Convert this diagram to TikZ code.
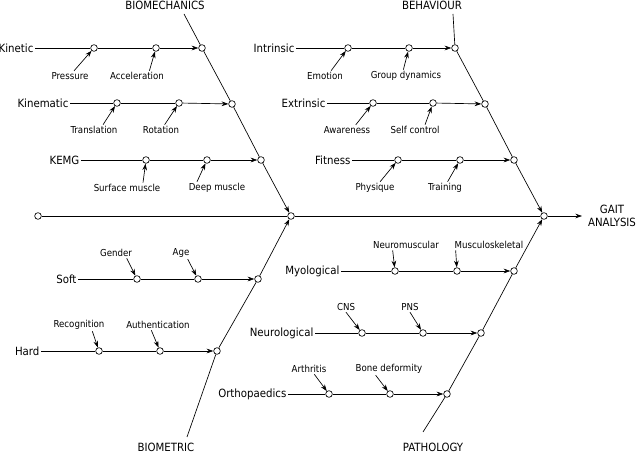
\documentclass[tikz,border=0pt]{standalone}
\usepackage{fontspec}
\setmainfont{DejaVu Sans Condensed}
\usetikzlibrary{arrows.meta}
\begin{document}
\begin{tikzpicture}[x=0.75pt,y=-0.75pt,
  dot/.style={circle,draw,fill=white,inner sep=0pt,minimum size=5pt,line width=0.5pt},
  main/.style={font=\fontsize{8.5}{9.5}\selectfont,inner sep=1pt},
  sub/.style={font=\fontsize{7.2}{8}\selectfont,inner sep=1pt},
  ln/.style={line width=0.5pt},
  ar/.style={line width=0.5pt,-{Stealth[length=5pt,width=3.5pt]}}]
\useasboundingbox (0,0) rectangle (640,452);
% spine
\node[dot] (s0) at (38,216) {};
\node[dot] (jl) at (291,216) {};
\node[dot] (jr) at (544,216) {};
\coordinate (se) at (582,216);
\node[main,align=center] (gait) at (612,216) {GAIT\\ANALYSIS};
\draw[ln] (s0) -- (jl); \draw[ln] (jl) -- (jr); \draw[ar] (jr) -- (se);
% ---------- BIOMECHANICS
\node[main] (bio) at (165,5) {BIOMECHANICS};
\coordinate (bs) at (184,14);
\node[dot] (b1) at (202,48) {};
\node[dot] (b2) at (232,104) {};
\node[dot] (b3) at (261,160) {};
\draw[ln] (bs) -- (b1); \draw[ln] (b1) -- (b2); \draw[ln] (b2) -- (b3); \draw[ar] (b3) -- (jl);
\node[main,anchor=east] (kin) at (35,48) {Kinetic};
\node[dot] (k1) at (94,48) {}; \node[dot] (k2) at (156,48) {};
\draw[ln] (kin) -- (k1); \draw[ln] (k1) -- (k2); \draw[ar] (k2) -- (b1);
\node[sub] (pr) at (70,76) {Pressure}; \node[sub] (ac) at (137,76) {Acceleration};
\draw[ar] ([xshift=-12]pr.north east) -- (k1);
\draw[ar] ([xshift=-12]ac.north east) -- (k2);
\node[main,anchor=east] (kinm) at (70,103) {Kinematic};
\node[dot] (m1) at (117,103) {}; \node[dot] (m2) at (179,103) {};
\draw[ln] (kinm) -- (m1); \draw[ln] (m1) -- (m2); \draw[ar] (m2) -- (b2);
\node[sub] (tr) at (94,130) {Translation}; \node[sub] (ro) at (161,130) {Rotation};
\draw[ar] ([xshift=-12]tr.north east) -- (m1);
\draw[ar] ([xshift=-12]ro.north east) -- (m2);
\node[main,anchor=east] (kemg) at (81,160) {KEMG};
\node[dot] (e1) at (146,160) {}; \node[dot] (e2) at (207,160) {};
\draw[ln] (kemg) -- (e1); \draw[ln] (e1) -- (e2); \draw[ar] (e2) -- (b3);
\node[sub] (sm) at (127,188) {Surface muscle}; \node[sub] (dm) at (217,188) {Deep muscle};
\draw[ar] ([xshift=12]sm.north) -- (e1);
\draw[ar] ([xshift=-15]dm.north) -- (e2);
% ---------- BEHAVIOUR
\node[main] (beh) at (432,5) {BEHAVIOUR};
\coordinate (hs) at (453,14);
\node[dot] (h1) at (455,48) {};
\node[dot] (h2) at (485,104) {};
\node[dot] (h3) at (514,160) {};
\draw[ln] (hs) -- (h1); \draw[ln] (h1) -- (h2); \draw[ln] (h2) -- (h3); \draw[ar] (h3) -- (jr);
\node[main,anchor=east] (intr) at (296,48) {Intrinsic};
\node[dot] (i1) at (348,48) {}; \node[dot] (i2) at (409,48) {};
\draw[ln] (intr) -- (i1); \draw[ln] (i1) -- (i2); \draw[ar] (i2) -- (h1);
\node[sub] (em) at (325,76) {Emotion}; \node[sub] (gd) at (406,76) {Group dynamics};
\draw[ar] ([xshift=-10]em.north east) -- (i1);
\draw[ar] ([xshift=-2]gd.north) -- (i2);
\node[main,anchor=east] (extr) at (327,103) {Extrinsic};
\node[dot] (x1) at (373,103) {}; \node[dot] (x2) at (433,103) {};
\draw[ln] (extr) -- (x1); \draw[ln] (x1) -- (x2); \draw[ar] (x2) -- (h2);
\node[sub] (aw) at (347,130) {Awareness}; \node[sub] (sc) at (415,130) {Self control};
\draw[ar] ([xshift=-12]aw.north east) -- (x1);
\draw[ar] ([xshift=-12]sc.north east) -- (x2);
\node[main,anchor=east] (fit) at (352,160) {Fitness};
\node[dot] (f1) at (398,160) {}; \node[dot] (f2) at (460,160) {};
\draw[ln] (fit) -- (f1); \draw[ln] (f1) -- (f2); \draw[ar] (f2) -- (h3);
\node[sub] (ph) at (375,188) {Physique}; \node[sub] (tn) at (445,188) {Training};
\draw[ar] ([xshift=-12]ph.north east) -- (f1);
\draw[ar] ([xshift=-12]tn.north east) -- (f2);
% ---------- BIOMETRIC
\node[main] (bmt) at (166,447) {BIOMETRIC};
\coordinate (ms) at (187,437);
\node[dot] (g1) at (258,279) {};
\node[dot] (g2) at (217,351) {};
\draw[ln] (ms) -- (g2); \draw[ln] (g2) -- (g1); \draw[ar] (g1) -- (jl);
\node[main,anchor=east] (soft) at (78,279) {Soft};
\node[dot] (o1) at (137,279) {}; \node[dot] (o2) at (198,279) {};
\draw[ln] (soft) -- (o1); \draw[ln] (o1) -- (o2); \draw[ar] (o2) -- (g1);
\node[sub] (ge) at (116,253) {Gender}; \node[sub] (ag) at (181,253) {Age};
\draw[ar] ([xshift=8]ge.south) -- (o1);
\draw[ar] ([xshift=5]ag.south) -- (o2);
\node[main,anchor=east] (hard) at (41,351) {Hard};
\node[dot] (d1) at (99,351) {}; \node[dot] (d2) at (160,351) {};
\draw[ln] (hard) -- (d1); \draw[ln] (d1) -- (d2); \draw[ar] (d2) -- (g2);
\node[sub] (rc) at (79,325) {Recognition}; \node[sub] (au) at (158,325) {Authentication};
\draw[ar] ([xshift=10]rc.south) -- (d1);
\draw[ar] ([xshift=-5]au.south) -- (d2);
% ---------- PATHOLOGY
\node[main] (pat) at (433,447) {PATHOLOGY};
\coordinate (ps) at (423,432);
\node[dot] (p1) at (514,271) {};
\node[dot] (p2) at (481,333) {};
\node[dot] (p3) at (447,394) {};
\draw[ln] (ps) -- (p3); \draw[ln] (p3) -- (p2); \draw[ln] (p2) -- (p1); \draw[ar] (p1) -- (jr);
\node[main,anchor=east] (myo) at (341,271) {Myological};
\node[dot] (y1) at (395,271) {}; \node[dot] (y2) at (457,271) {};
\draw[ln] (myo) -- (y1); \draw[ln] (y1) -- (y2); \draw[ar] (y2) -- (p1);
\node[sub] (nm) at (406,245) {Neuromuscular}; \node[sub] (ms2) at (489,245) {Musculoskeletal};
\draw[ar] ([xshift=-10]nm.south) -- (y1);
\draw[ar] ([xshift=-25]ms2.south) -- (y2);
\node[main,anchor=east] (neu) at (315,333) {Neurological};
\node[dot] (n1) at (362,333) {}; \node[dot] (n2) at (423,333) {};
\draw[ln] (neu) -- (n1); \draw[ln] (n1) -- (n2); \draw[ar] (n2) -- (p2);
\node[sub] (cns) at (346,307) {CNS}; \node[sub] (pns) at (410,307) {PNS};
\draw[ar] (cns.south) -- (n1);
\draw[ar] (pns.south) -- (n2);
\node[main,anchor=east] (ort) at (288,394) {Orthopaedics};
\node[dot] (r1) at (329,394) {}; \node[dot] (r2) at (390,394) {};
\draw[ln] (ort) -- (r1); \draw[ln] (r1) -- (r2); \draw[ar] (r2) -- (p3);
\node[sub] (art) at (309,369) {Arthritis}; \node[sub] (bd) at (389,369) {Bone deformity};
\draw[ar] ([xshift=4]art.south) -- (r1);
\draw[ar] ([xshift=-10]bd.south) -- (r2);
\end{tikzpicture}
\end{document}
